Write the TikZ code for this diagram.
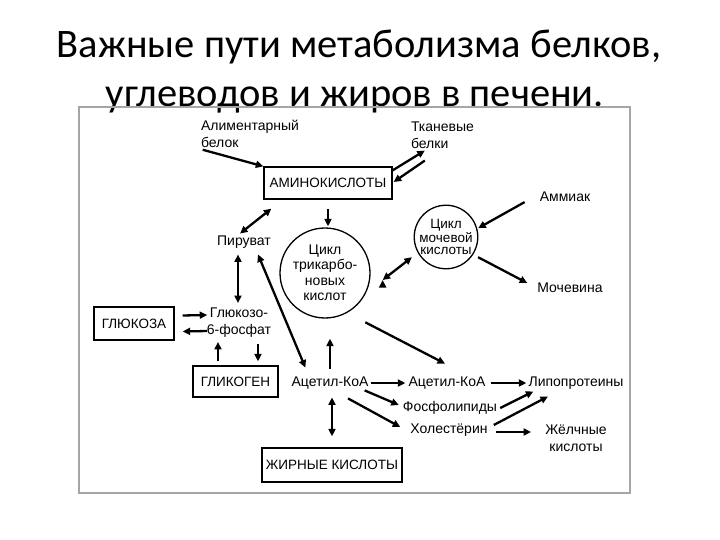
\documentclass[tikz,border=0pt]{standalone}
\usepackage{fontspec}
\setsansfont{Liberation Sans}
\newfontfamily\titlefont{Carlito}
\usetikzlibrary{%
  calc,%
  arrows.meta%
}

\begin{document}
\begin{tikzpicture}[x=1pt,y=-1pt,
  >={Triangle[length=7.5pt,width=7pt]},
  ttl/.style={anchor=base,font=\titlefont\fontsize{40.5}{49}\selectfont},
  lbl/.style={font=\sffamily\fontsize{14}{17}\selectfont,inner sep=1pt,align=center},
  blk/.style={lbl,draw,line width=1.3pt,inner sep=0pt,font=\sffamily\fontsize{13.5}{16}\selectfont},
  cyc/.style={lbl,circle,draw,line width=1.3pt,inner sep=0pt}]

\useasboundingbox (0,0) rectangle (720,540);

\node[ttl] (title1) at (359,58) {Важные пути метаболизма белков,};
\node[ttl] (title2) at (355,107) {углеводов и жиров в печени.};
\draw[gray!70,line width=1.2pt] (79,107) rectangle (630,493);

\node[blk,minimum width=128pt,minimum height=32pt] (amino) at (328,183) {АМИНОКИСЛОТЫ};
\node[blk,minimum width=80pt,minimum height=33pt] (gluc) at (134,323.5) {ГЛЮКОЗА};
\node[blk,minimum width=85pt,minimum height=31pt] (glyc) at (235.5,381.5) {ГЛИКОГЕН};
\node[blk,minimum width=140pt,minimum height=34pt] (fat) at (332,465) {ЖИРНЫЕ КИСЛОТЫ};
%
\node[cyc,minimum size=90pt,font=\sffamily\fontsize{14}{15.5}\selectfont] (tca) at (325,273) {Цикл\\трикарбо-\\новых\\кислот};
\node[cyc,minimum size=63pt,font=\sffamily\fontsize{13.5}{12}\selectfont] (uc) at (446,237) {Цикл\\мочевой\\кислоты};
%
\node[lbl,align=left] (al) at (250,134) {Алиментарный\\белок};
\node[lbl,align=left] (tk) at (442.5,135) {Тканевые\\белки};
\node[lbl] (pyr) at (244,242) {Пируват};
\node[lbl] (g6p) at (239,323) {Глюкозо-\\6-фосфат};
\node[lbl] (ac1) at (330,383) {Ацетил-КоА};
\node[lbl] (ac2) at (447,383) {Ацетил-КоА};
\node[lbl] (lip) at (576,383) {Липопротеины};
\node[lbl] (phos) at (450,408) {Фосфолипиды};
\node[lbl] (chol) at (449,430) {Холестёрин};
\node[lbl] (bile) at (576,438) {Жёлчные\\кислоты};
\node[lbl] (amm) at (565,197) {Аммиак};
\node[lbl] (urea) at (570,288) {Мочевина};

\draw[->,line width=2.3pt]
  (al.south west) edge[shorten <=3pt] (amino.north west)
  ($(amino.north east)+(0,4)$) edge ($(tk.south west)+(15,1)$)
  ($(tk.south west)+(15,11)$) edge ($(amino.east)+(1,-1)$)
  ($(amino.south west)+(8,9)$) edge[<->] ($(pyr.north)+(-4,-1)$)
  (amino.south) edge[shorten <=9pt,shorten >=1pt] (amino |- tca.north)
  ($(pyr.south)+(-6,5)$) edge[<->] ($(g6p.north)+(-1,-4)$)
  ($(pyr.south)+(14,5)$) edge[<->] ($(ac1.north west)+(15,-8)$)
  ($(gluc.east)+(8,-8)$) edge ($(g6p.west)+(1.5,-8)$)
  ($(g6p.west)+(1.5,8)$) edge ($(gluc.east)+(8,8)$)
  ($(glyc.north)+(-17.5,-4)$) edge ($(g6p.south)+(-21,3)$)
  ($(g6p.south)+(19,5)$) edge ($(glyc.north)+(22.5,-4)$)
  ($(ac1.north)+(0,-7)$) edge ($(ac1.north |- tca.south)+(0,20)$)
  ($(ac1.south)+(2,7)$) edge[<->] ($(fat.north)+(0,-11)$)
  (ac1.east) edge[shorten <=1pt,shorten >=2pt] (ac2.west)
  ($(tca.-45)+(8,17)$) edge ($(ac2.north)+(-2,-12)$)
  (ac2.east) edge[shorten <=4pt,shorten >=1pt] (lip.west)
  ($(ac1.south east)+(-5,0)$) edge ($(phos.west)+(-3,-3)$)
  ($(ac1.south)+(18,8)$) edge ($(chol.west)+(-9,-3)$)
  ($(phos.east)+(2,0)$) edge ($(lip.south west)+(6,1)$)
  ($(chol.east)+(5,-5)$) edge ($(lip.south)+(-28,6)$)
  ($(chol.east)+(7,2)$) edge ($(bile.west)+(-13,-6)$)
  ($(amm.south west)+(-14,-1)$) edge[shorten >=1pt] (uc.15)
  ($(uc.-30)+(4,4)$) edge ($(urea.west)+(-9,-5)$)
  ($(tca.east)+(12,7)$) edge[<->] ($(uc.210)+(-6,4)$)
;
\end{tikzpicture}
\end{document}
